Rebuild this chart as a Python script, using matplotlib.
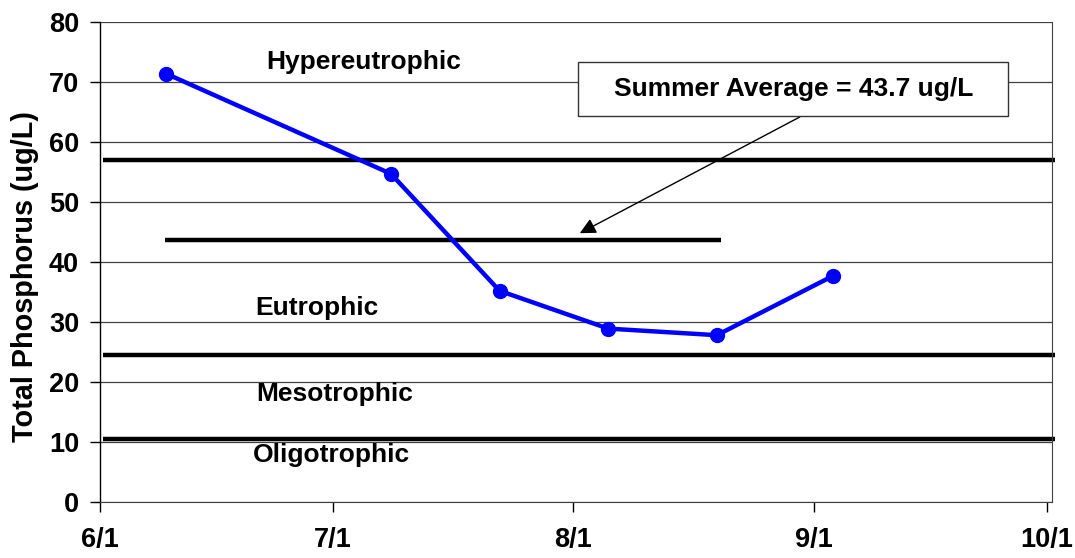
import matplotlib
matplotlib.use("Agg")
import matplotlib.pyplot as plt
from matplotlib.patches import Rectangle
from datetime import datetime, timedelta

plt.rcParams['font.family'] = ['Liberation Sans', 'DejaVu Sans']
plt.rcParams['font.weight'] = 'bold'

# Data
sample_dates = ["2000-06-09", "2000-07-08", "2000-07-22", "2000-08-05", "2000-08-19", "2000-09-03"]
tp_values = [71.4, 54.7, 35.2, 28.9, 27.8, 37.7]
boundaries = [57.0, 24.5, 10.5]
summer_avg = 43.7
avg_span = ["2000-06-09", "2000-08-19"]
tick_dates = ["2000-06-01", "2000-07-01", "2000-08-01", "2000-09-01", "2000-10-01"]
tick_labels = ["6/1", "7/1", "8/1", "9/1", "10/1"]
zone_labels = ["Hypereutrophic", "Eutrophic", "Mesotrophic", "Oligotrophic"]
avg_text = "Summer Average = 43.7 ug/L"

# layout (axes fraction) for the zone labels
zone_pos = [(0.2768, 0.902), (0.228, 0.3896), (0.2468, 0.211), (0.243, 0.084)]

to_dt = lambda s: datetime.strptime(s, "%Y-%m-%d")
half = timedelta(hours=12)  # Excel date axis centres points within the day
xd = [to_dt(s) + half for s in sample_dates]

fig = plt.figure(figsize=(10.75, 5.58), dpi=100)
ax = fig.add_axes([100/1075, 1-502/558, 952/1075, 480/558])

x0 = to_dt("2000-06-01")
x1 = x0 + timedelta(days=122.7)
ax.set_xlim(x0, x1)
ax.set_ylim(0, 80)

ax.set_yticks(range(0, 81, 10))
ax.yaxis.grid(True, color='#404040', linewidth=0.9)
ax.set_axisbelow(True)

for b in boundaries:
    ax.plot([x0 + timedelta(days=0.4), x1 + timedelta(days=0.4)], [b, b], color='black', lw=3.2,
            solid_capstyle='butt', clip_on=False, zorder=2)

ax.plot([to_dt(avg_span[0]) + timedelta(days=0.4), to_dt(avg_span[1]) + timedelta(days=1.1)],
        [summer_avg, summer_avg], color='black', lw=3.2, solid_capstyle='butt', zorder=2)

ax.plot(xd, tp_values, color='#0000FF', lw=3.2, marker='o', markersize=10, zorder=3)

for lab, (px, py) in zip(zone_labels, zone_pos):
    ax.text(px, py, lab, ha='center', va='baseline', fontsize=19, fontweight='bold',
            transform=ax.transAxes)

ax.annotate("", xy=(0.504, 0.560), xytext=(0.735, 0.802), xycoords='axes fraction',
            textcoords='axes fraction',
            arrowprops=dict(arrowstyle='-|>', color='black', lw=1.0, mutation_scale=24,
                            shrinkA=0, shrinkB=0), zorder=4)
ax.add_patch(Rectangle((0.502, 0.804), 0.452, 0.1125, transform=ax.transAxes,
                       facecolor='white', edgecolor='#333333', lw=1.0, zorder=5, clip_on=False))
ax.text(0.729, 0.860, avg_text, ha='center', va='center', fontsize=19, fontweight='bold',
        transform=ax.transAxes, zorder=6)

ax.set_xticks([to_dt(s) for s in tick_dates])
ax.set_xticklabels(tick_labels)
ax.tick_params(axis='both', labelsize=19.5, length=7, width=1, direction='out')
ax.tick_params(axis='x', pad=11)
ax.tick_params(axis='y', pad=8)
for t in ax.get_xticklabels() + ax.get_yticklabels():
    t.set_fontweight('bold')

ax.set_ylabel("Total Phosphorus (ug/L)", fontsize=20.8, fontweight='bold')
ax.yaxis.set_label_coords(-0.064, 0.47)

ax.spines['top'].set_visible(False)
ax.spines['right'].set_color('#404040')
ax.spines['left'].set_linewidth(1.0)
ax.spines['bottom'].set_color('#404040')

fig.savefig("out.png", dpi=100)
